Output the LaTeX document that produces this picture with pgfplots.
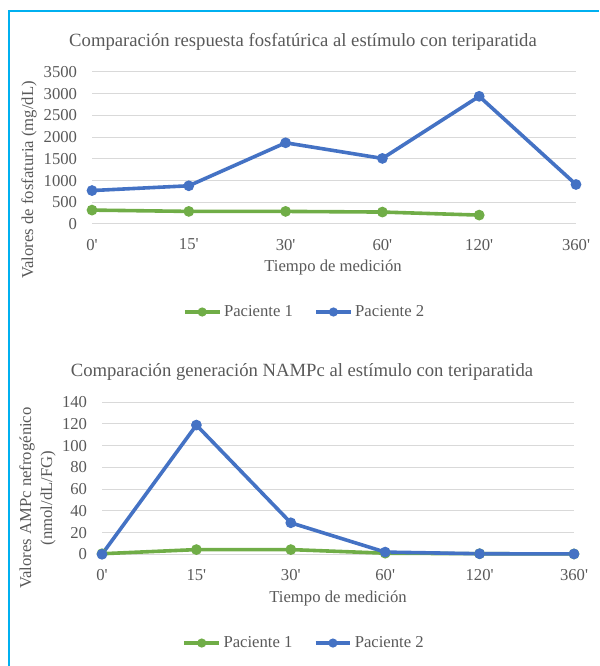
\documentclass[border=0pt]{standalone}
\usepackage{fontspec}
\setmainfont{Liberation Serif}
\usepackage{pgfplots}
\pgfplotsset{compat=1.18}

\definecolor{verde}{HTML}{70AD47}
\definecolor{azul}{HTML}{4472C4}
\definecolor{texto}{HTML}{595959}
\definecolor{rejilla}{HTML}{D9D9D9}
\definecolor{marco}{HTML}{00B0F0}

\newcommand{\lbl}{\fontsize{12.5}{15.75}\selectfont}
\newcommand{\ttl}{\fontsize{14}{17}\selectfont}

\pgfplotsset{
  grafico/.style={
    scale only axis,
    anchor=south west,
    height=114pt,
    xmin=0, xmax=5,
    axis line style={draw=none},
    major tick length=0pt,
    ymajorgrids=true,
    grid style={rejilla, line width=0.75pt},
    xtick={0,1,2,3,4,5},
    xticklabels={0\textquotesingle,15\textquotesingle,30\textquotesingle,60\textquotesingle,120\textquotesingle,360\textquotesingle},
    tick label style={font=\lbl, text=texto},
    yticklabel style={inner sep=0pt, xshift=-11pt},
    xticklabel style={inner sep=0pt, yshift=-11pt},
    /pgf/number format/assume math mode=true,
    /pgf/number format/1000 sep={},
    clip=false,
    every axis plot/.append style={line width=2.7pt, mark=*, mark size=2.6pt},
    legend columns=2,
    legend style={draw=none, fill=none, font=\lbl, text=texto, anchor=center,
      /tikz/every even column/.append style={column sep=14pt}},
    legend image code/.code={
      \draw[mark repeat=2, mark phase=2, #1, mark size=2pt]
        plot coordinates {(0pt,0pt) (13pt,0pt) (26pt,0pt)};
    },
  }
}

\begin{document}
\begin{tikzpicture}
\useasboundingbox (0,0) rectangle (449.25pt,-499.5pt);
\draw[marco, line width=2.1pt] (6.75pt,-499.5pt) -- (6.75pt,-8.25pt) -- (449.25pt,-8.25pt);

% grafico 1
\node[font=\ttl, text=texto] at (227.25pt,-31.5pt) {Comparación respuesta fosfatúrica al estímulo con teriparatida};
\node[font=\lbl, text=texto, rotate=90] at (21.75pt,-135pt) {Valores de fosfaturia (mg/dL)};
\node[font=\lbl, text=texto] at (249.75pt,-200.25pt) {Tiempo de medición};
\begin{axis}[grafico, at={(69pt,-168pt)}, width=363pt,
    ymin=0, ymax=3500, ytick={0,500,...,3500},
    legend style={at={(0.44,-0.579)}}]
\addplot[verde] coordinates {(0,320) (1,290) (2,290) (3,275) (4,205)};
\addplot[azul] coordinates {(0,770) (1,880) (2,1870) (3,1510) (4,2940) (5,910)};
\legend{Paciente 1, Paciente 2}
\end{axis}

% grafico 2
\node[font=\ttl, text=texto] at (226.5pt,-279pt) {Comparación generación NAMPc al estímulo con teriparatida};
\node[font=\lbl, text=texto, rotate=90, align=center] at (28.1pt,-373.5pt) {Valores AMPc nefrogénico\\(nmol/dL/FG)};
\node[font=\lbl, text=texto] at (253.5pt,-448.5pt) {Tiempo de medición};
\begin{axis}[grafico, at={(76.5pt,-415.7pt)}, width=354pt,
    ymin=0, ymax=140, ytick={0,20,...,140},
    legend style={at={(0.429,-0.584)}}]
\addplot[verde] coordinates {(0,0.5) (1,4.3) (2,4.3) (3,1) (4,0.5) (5,0.3)};
\addplot[azul] coordinates {(0,0) (1,119) (2,29) (3,2) (4,0.5) (5,0.3)};
\legend{Paciente 1, Paciente 2}
\end{axis}
\end{tikzpicture}
\end{document}
